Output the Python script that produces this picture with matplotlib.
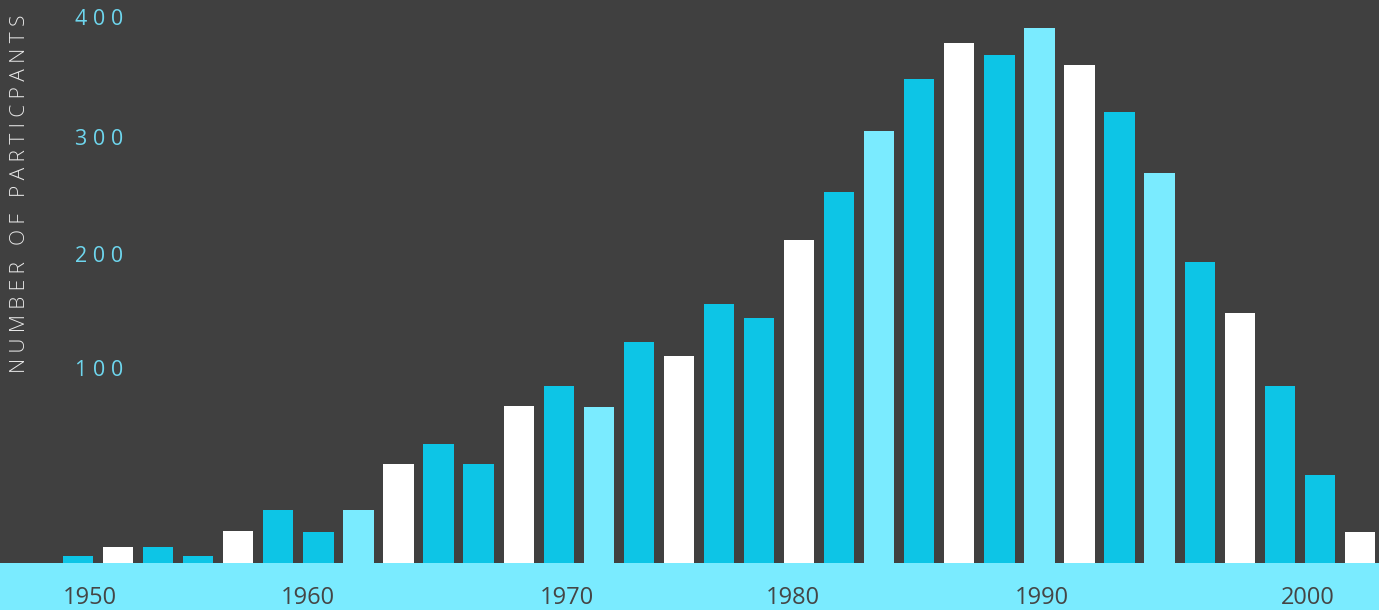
import matplotlib
matplotlib.use("Agg")
import matplotlib.pyplot as plt

# ---- data ----
participants = [5, 12, 12, 5, 23.5, 39, 23, 39, 73, 87, 73, 115, 130, 114.5,
                162, 152, 190, 180, 237, 272, 317, 355, 382, 373, 393, 365.5,
                331, 286, 221, 183.5, 130, 64.5, 23]
bar_colors = ["c", "w", "c", "c", "w", "c", "c", "l", "w", "c", "c", "w", "c", "l",
              "c", "w", "c", "c", "w", "c", "l", "c", "w", "c", "l", "w", "c", "l",
              "c", "w", "c", "c", "w"]
year_labels = ["1950", "1960", "1970", "1980", "1990", "2000"]
year_label_pos = [0.29, 5.74, 12.2, 17.85, 24.06, 30.69]   # in bar-slot units
y_tick_labels = ["100", "200", "300", "400"]
y_tick_pos = [141.0, 224.6, 310.5, 398.6]
y_title = "NUMBER OF PARTICPANTS"

# ---- styles ----
BG = "#404040"
CYAN = "#0DC5E6"
LIGHT = "#7AEBFF"
WHITE = "#FFFFFF"
cmap = {"c": CYAN, "l": LIGHT, "w": WHITE}
FONT = ["Open Sans", "DejaVu Sans"]

fig = plt.figure(figsize=(13.79, 6.10), dpi=100, facecolor=BG)
ax = fig.add_axes([0, 0, 1, 1])
ax.set_facecolor(BG)

x = list(range(len(participants)))
ax.bar(x, participants, width=0.756, color=[cmap[c] for c in bar_colors],
       linewidth=0, zorder=2)

ymin, ymax = -34.5, 413.2
ax.set_xlim(-1.947, 32.476)
ax.set_ylim(ymin, ymax)
ax.axhspan(ymin, 0, color=LIGHT, linewidth=0, zorder=1)

for lab, pos in zip(year_labels, year_label_pos):
    ax.text(pos, -26.0, lab, ha="center", va="center", fontsize=17,
            color="#454545", family=FONT, zorder=3)

for lab, pos in zip(y_tick_labels, y_tick_pos):
    ax.text(-0.08, pos, " ".join(lab), ha="left", va="center", fontsize=15.5,
            color="#6ED6EE", family=FONT, fontweight="normal", zorder=3)

ax.axis("off")

spaced_title = "   ".join(" ".join(w) for w in y_title.split())
fig.text(20 / 1379, 1 - 193.5 / 610, spaced_title,
         rotation=90, ha="center", va="center", fontsize=15,
         color="#E8E8E8", family=FONT, fontweight="light")

fig.savefig("out.png", dpi=100, facecolor=BG)
